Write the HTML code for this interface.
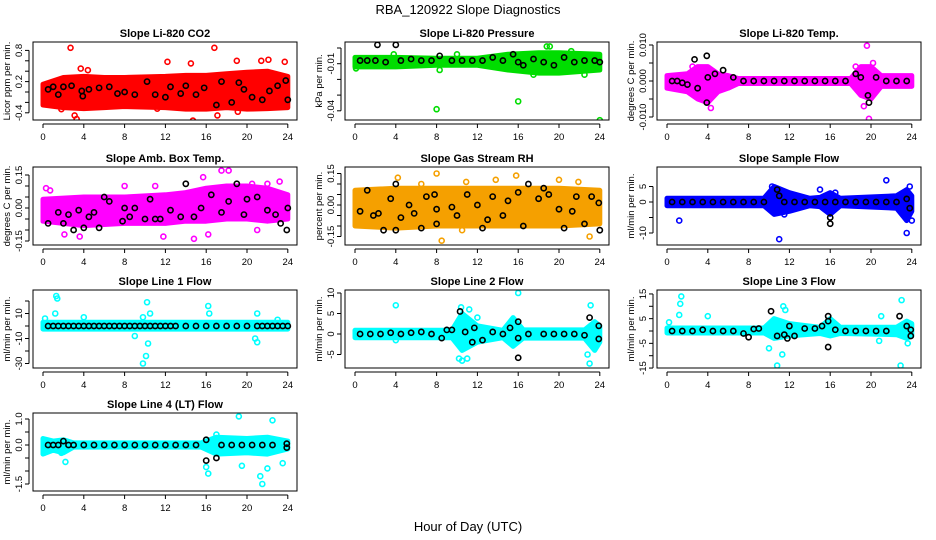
<!DOCTYPE html>
<html><head><meta charset="utf-8"><style>
html,body{margin:0;padding:0;background:#fff}
svg{display:block;font-family:"Liberation Sans",sans-serif}
</style></head><body>
<svg id="chart" width="936" height="540" viewBox="0 0 936 540" xmlns="http://www.w3.org/2000/svg">
<text x="468" y="14" font-size="13" text-anchor="middle">RBA_120922  Slope Diagnostics</text>
<text x="468" y="531" font-size="13" text-anchor="middle">Hour of Day (UTC)</text>
</svg>
<script>
const hourTicks=[0,4,8,12,16,20,24];
const panelTitles=["Slope Li-820 CO2","Slope Li-820 Pressure","Slope Li-820 Temp.","Slope Amb. Box Temp.","Slope Gas Stream RH","Slope Sample Flow","Slope Line 1 Flow","Slope Line 2 Flow","Slope Line 3 Flow","Slope Line 4 (LT) Flow"];
const yTitles=["Licor ppm per min.","kPa per min.","degrees C per min.","degrees C per min.","percent per min.","ml/min per min.","ml/min per min.","ml/min per min.","ml/min per min.","ml/min per min."];
const seriesColors=["#ff0000","#00dd00","#ff00ff","#ff00ff","#f5a000","#0000ff","#00ffff","#00ffff","#00ffff","#00ffff"];
const yTicks=[[-0.4,-0.2,0,0.2,0.4,0.6,0.8],[-0.04,-0.03,-0.02,-0.01,0],[-0.01,-0.005,0,0.005,0.01],[-0.15,-0.1,-0.05,0,0.05,0.1,0.15],[-0.15,-0.1,-0.05,0,0.05,0.1,0.15],[-10,-5,0,5],[-30,-20,-10,0,10,20],[-5,0,5,10],[-15,-10,-5,0,5,10,15],[-1.5,-1,-0.5,0,0.5,1]];
const yTickLabels=[{"-0.4":"-0.4","0.2":"0.2","0.8":"0.8"},{"-0.04":"-0.04","-0.01":"-0.01"},{"-0.01":"-0.010","0":"0.000","0.01":"0.010"},{"-0.15":"-0.15","0":"0.00","0.15":"0.15"},{"-0.15":"-0.15","0":"0.00","0.15":"0.15"},{"-10":"-10","0":"0","5":"5"},{"-30":"-30","-10":"-10","10":"10"},{"-5":"-5","0":"0","5":"5","10":"10"},{"-15":"-15","-5":"-5","5":"5","15":"15"},{"-1.5":"-1.5","0":"0.0","1":"1.0"}];
// band breakpoints (hour, low, high) for the dense point clouds
const bandH=[[0,2,4,6,8,12,14,16,18,20,22,24],[0,4,8,12,15,18,20,24],[0,2,3,4,5,6,7,18,19,20,21,24],[0,4,8,12,14,16,18,20,22,24],[0,4,8,12,16,20,24],[0,9.5,10.5,12,14,15,16,17,22.5,23.5,24],[0,24],[0,9.5,10.5,12,14.5,15.5,16.5,22.5,23.5,24],[0,9.5,10.5,12,15,16,17,22.5,23.5,24],[0,1,2,3,15.5,17,20,22,24]];
const bandLo=[[-0.25,-0.3,-0.32,-0.3,-0.28,-0.3,-0.33,-0.33,-0.3,-0.33,-0.32,-0.3],[-0.012,-0.012,-0.011,-0.011,-0.014,-0.016,-0.016,-0.014],[-0.002,-0.003,-0.005,-0.006,-0.003,-0.002,-0.0007,-0.0007,-0.004,-0.005,-0.0015,-0.0015],[-0.06,-0.08,-0.07,-0.07,-0.06,-0.06,-0.05,-0.05,-0.06,-0.05],[-0.1,-0.11,-0.1,-0.1,-0.1,-0.1,-0.09],[-1.2,-1.2,-4,-3,-1.2,-1.5,-4,-1.2,-2,-6,-3],[-2.5,-2.5],[-0.9,-0.9,-4,-2,-0.9,-3,-1,-1,-4,-2],[-0.8,-0.8,-3,-2,-1,-2,-1,-1.5,-3,-2],[-0.35,-0.2,-0.3,-0.08,-0.08,-0.35,-0.3,-0.35,-0.15]];
const bandHi=[[0.15,0.28,0.3,0.28,0.28,0.3,0.32,0.32,0.35,0.38,0.4,0.3],[-0.006,-0.006,-0.0065,-0.0065,-0.004,-0.003,-0.003,-0.004],[0.0015,0.002,0.004,0.004,0.002,0.0015,0.0007,0.0007,0.004,0.004,0.0015,0.0015],[0.04,0.05,0.05,0.06,0.07,0.09,0.1,0.1,0.09,0.06],[0.07,0.08,0.08,0.08,0.08,0.08,0.07],[1.2,1.2,5,3,1.2,1.5,3,1.2,2,4,2],[3,3],[0.9,0.9,5,2,0.9,4,1,1,3,2],[1.2,1.2,5,3,1.5,5,1.5,1.5,4,3],[0.25,0.15,0.2,0.08,0.08,0.3,0.25,0.3,0.15]];
const outliers=[
[[2.7,0.85],[16.8,0.85],[3.1,-0.45],[3.3,-0.52],[14.7,-0.55],[14.5,0.55],[12.2,0.58],[19,0.6],[21.4,0.6],[22.1,0.62],[23.7,0.58],[1.8,-0.33],[17.1,-0.45],[19.1,-0.38],[11.2,-0.32],[3.7,0.45],[4.4,0.42]],
[[8,-0.039],[16,-0.034],[24,-0.046],[0.1,-0.013],[18.8,0.001],[19.1,0.001],[10,-0.004],[17.5,-0.017],[22.5,-0.017],[3.8,-0.004],[8.3,-0.014],[21.2,-0.002]],
[[19.6,0.0098],[19.8,-0.0105],[4.3,-0.0075],[18.5,0.004],[3.5,-0.0045],[20.2,0.005],[2.5,0.004],[19.3,-0.007]],
[[0.3,0.09],[0.7,0.08],[15.7,0.14],[17.5,0.17],[18.2,0.17],[14.8,-0.14],[3.6,-0.13],[2.1,-0.12],[23.2,0.12],[8,0.1],[11,0.1],[21,-0.1],[16.2,-0.12],[11.8,-0.13],[20.5,0.11],[22,0.11]],
[[4.2,0.13],[8,0.15],[15.8,0.14],[8.5,-0.17],[23,-0.15],[13.8,0.12],[10.9,0.11],[20,0.12],[21.9,0.11],[10.5,-0.12],[6.5,0.1]],
[[1.2,-6],[11,-12],[23.5,-10],[21.5,7],[15,4],[10.3,5],[24,-6],[11.5,-4],[16.5,3],[23.8,5]],
[[1.3,24],[1.4,22],[1.2,10],[0.2,6],[4,7],[10.2,19],[10.5,10],[9.8,-30],[10.1,-24],[10.3,-14],[16.2,16],[16.3,10],[21,10],[20.8,-10],[21,-13],[9.8,7],[23,5],[9,-8]],
[[4,7],[16,10],[10.2,-6],[10.5,-6.5],[11,-6],[23,-7.2],[22.8,-5],[23.1,7],[11.2,6],[4,-1.5],[10.4,6.5],[12,4]],
[[1.4,14],[1.3,11],[1.2,6.5],[0.2,3.5],[4,6],[10.8,-14],[11.3,-9.5],[11.4,10],[11.6,8.5],[23,12.5],[22.9,-14],[23.2,-16],[23.6,-5],[21,6],[20.8,-4],[10,-7]],
[[0.1,-0.3],[2.2,-0.65],[16,-0.85],[16.2,-1.1],[19.2,1.1],[19.5,-0.8],[21.3,-1.2],[21.5,-1.5],[22.5,0.95],[22,-0.9],[17,0.4],[23.5,-0.7],[1.8,-0.3]]];
const blackPts=[
[[0.5,0.05],[1,0.1],[1.5,-0.05],[2,0.1],[2.8,0.12],[3.8,0.02],[3.9,-0.08],[4.5,0.05],[5.5,0.08],[6.5,0.1],[7.3,-0.03],[8,0.0],[9,-0.05],[10.2,0.2],[11,-0.05],[12,-0.1],[12.5,0.1],[13.5,-0.03],[14,0.12],[15,-0.05],[15.8,0.08],[17,-0.25],[17.5,0.2],[18.5,-0.2],[19.2,0.18],[19.7,0.05],[20.5,-0.1],[21.5,-0.15],[22.2,0.02],[23,0.12],[23.8,0.22],[24,-0.15]],
[[0.5,-0.008],[1.2,-0.008],[2,-0.008],[2.2,0.002],[3,-0.009],[4,0.002],[4.5,-0.008],[5.5,-0.007],[6.5,-0.008],[7.5,-0.008],[8.3,-0.005],[9.5,-0.008],[10.5,-0.008],[11.5,-0.008],[12.5,-0.008],[13.5,-0.006],[14.5,-0.008],[15.5,-0.004],[16,-0.009],[16.5,-0.011],[17.5,-0.007],[18.5,-0.009],[19.5,-0.011],[20.5,-0.006],[21.5,-0.009],[22.5,-0.008],[23.5,-0.008],[24,-0.009]],
[[0.5,0],[1,0],[1.5,-0.0005],[2,-0.001],[2.7,0.006],[3,-0.002],[3.9,0.007],[3.9,-0.006],[4,0.001],[4.7,0.002],[5.5,0.003],[6.5,0.001],[7.5,0],[8.5,0],[9.5,0],[10.5,0],[11.5,0],[12.5,0],[13.5,0],[14.5,0],[15.5,0],[16.5,0],[17.5,0],[18.5,0.002],[19,0.001],[19.7,-0.004],[19.8,-0.006],[20.5,0.001],[21.5,0],[22.5,0],[23.5,0]],
[[0.5,-0.07],[1.5,-0.02],[2,-0.07],[2.5,-0.03],[3,-0.1],[3.5,-0.01],[4,-0.09],[4.5,-0.04],[5,-0.02],[5.5,-0.09],[6,0.05],[6.5,0.03],[7.8,-0.06],[8,0.0],[8.5,-0.04],[9,0.0],[10,-0.05],[10.5,0.04],[11,-0.05],[11.5,-0.05],[12.5,-0.01],[13.5,-0.04],[14,0.11],[14.8,-0.04],[15.5,0.0],[16.5,0.06],[17.5,-0.02],[18.2,0.03],[19,0.11],[19.7,-0.03],[20,0.04],[21,0.05],[22,-0.01],[22.8,-0.03],[23.3,-0.07],[23.9,-0.1],[24,0.0]],
[[0.5,-0.03],[1.2,0.07],[1.8,-0.05],[2.3,-0.04],[2.8,-0.12],[3.5,0.03],[4,0.1],[4,-0.12],[4.5,-0.06],[5.3,0.0],[5.8,-0.04],[6.5,-0.11],[7,0.04],[7.8,0.05],[8,-0.02],[8,-0.09],[9.5,-0.01],[10,-0.05],[11,0.05],[12,0.0],[12.5,-0.11],[13,-0.07],[13.5,0.04],[14.5,-0.05],[15,0.02],[16,0.06],[16.5,-0.1],[17,0.1],[18,0.03],[18.5,0.08],[19,0.05],[20,-0.02],[20.5,-0.11],[21.3,-0.03],[21.7,0.04],[22.5,-0.09],[23.2,0.04],[23.9,0.01],[24,-0.12]],
[[0.5,0],[1.5,0],[2.5,0],[3.5,0],[4.5,0],[5.5,0],[6.5,0],[7.5,0],[8.5,0],[9.5,0],[10.8,4],[11,2],[11.5,0],[12.5,0],[13.5,0],[14.5,0],[15.5,0],[16,-5],[16,-7],[16.5,0],[17.5,0],[18.5,0],[19.5,0],[20.5,0],[21.5,0],[22.5,0],[23.5,1],[23.8,-2]],
[[0.5,0],[1,0],[1.5,0],[2,0],[2.5,0],[3,0],[3.5,0],[4,0],[4.5,0],[5,0],[5.5,0],[6,0],[6.5,0],[7,0],[7.5,0],[8,0],[8.5,0],[9,0],[9.5,0],[10,0],[10.5,0],[11,0],[11.5,0],[12,0],[12.5,0],[13,0],[14,0],[15,0],[16,0],[17,0],[18,0],[19,0],[20,0],[21,0],[21.5,0],[22,0],[22.5,0],[23,0],[23.5,0],[24,0]],
[[0.5,0],[1.5,0],[2.5,0],[3.5,0.3],[4.5,0],[5.5,0.3],[6.5,0.5],[7.5,0],[8.5,-1],[9,1],[9.5,1],[10.3,5.5],[10.8,0.5],[11.5,-2],[11.7,1.5],[12.5,-1.5],[13.5,0.5],[14.5,0],[15.2,1.5],[16,3],[16,-5.8],[16,-1],[17,0],[18.5,0],[19.5,0],[20.5,0],[21.5,0],[22.5,-0.3],[23,4],[23.9,2],[23.9,-1.2]],
[[0.5,0],[1.5,0],[2.5,0],[3.5,0.5],[4.5,0],[5.5,0],[6.5,0],[7.5,-1],[8,-2.5],[8.5,0.8],[9,1],[10.2,8],[10.8,-2],[11.5,-1.5],[11.8,-3],[12,2],[12.5,-2],[13.5,1],[14.5,1],[15.2,2],[15.8,6],[15.8,4],[15.8,-6.5],[16.5,0.5],[17.5,0],[18.5,0],[19.5,0],[20.5,0],[21.5,0],[22.8,6],[23.5,2],[23.9,-2],[23.9,0.5]],
[[0.5,0],[1,0],[1.5,0],[2,0.15],[2.5,0],[3,0],[4,0],[5,0],[6,0],[7,0],[8,0],[9,0],[10,0],[11,0],[12,0],[13,0],[14,0],[15,0],[16,-0.6],[16,0.2],[17,-0.5],[17.5,0],[18.5,0],[19.5,0],[20.5,0],[21.5,0],[22.5,0],[23.9,0.05],[23.9,-0.1]]];

const colLeft=[33,345,657], rowTop=[42,167,290,413], boxW=264, boxH=78;
const yZero=[92,48,81,208,205,202,326,334,331,445];
const yScale=[52,1570,3600,220,210,3.1,1.25,4.1,2.47,26];
const NS="http://www.w3.org/2000/svg";
const svg=document.getElementById('chart');
function mk(tag,attrs,parent){const e=document.createElementNS(NS,tag);for(const k in attrs)e.setAttribute(k,attrs[k]);(parent||svg).appendChild(e);return e;}

panelTitles.forEach((title,p)=>{
  const L=colLeft[p%3], T=rowTop[Math.floor(p/3)];
  const g=mk('g',{});
  
  
  const xs=h=>L+10+h*10.2;
  const ys=v=>yZero[p]-v*yScale[p];
  const clip=mk('clipPath',{id:'c'+p},g);
  mk('rect',{x:L,y:T,width:boxW,height:boxH},clip);
  const plot=mk('g',{'clip-path':'url(#c'+p+')'},g);
  const col=seriesColors[p];
  // band
  let pts=[];
  bandH[p].forEach((h,i)=>pts.push(xs(h)+','+ys(bandHi[p][i])));
  for(let i=bandH[p].length-1;i>=0;i--)pts.push(xs(bandH[p][i])+','+ys(bandLo[p][i]));
  const band=mk('polygon',{points:pts.join(' '),fill:col,stroke:col,'stroke-width':5,'stroke-linejoin':'round'},plot);
  
  
  outliers[p].forEach(d=>{
    const c=mk('circle',{cx:xs(d[0]),cy:ys(d[1]),r:2.5,fill:'none',stroke:col,'stroke-width':1.6},plot);
    
    
  });
  blackPts[p].forEach(d=>{
    const c=mk('circle',{cx:xs(d[0]),cy:ys(d[1]),r:2.6,fill:'none',stroke:'#000','stroke-width':1.6},plot);
    
    
  });
  const box=mk('rect',{x:L,y:T,width:boxW,height:boxH,fill:'none',stroke:'#000','stroke-width':1},g);
  
  
  const t=mk('text',{x:L+boxW/2,y:T-5,'font-size':11,'font-weight':'bold','text-anchor':'middle'},g);
  t.textContent=title;
  
  
  // x axis
  mk('line',{x1:xs(0),x2:xs(24),y1:T+boxH+4,y2:T+boxH+4,stroke:'#000'},g);
  hourTicks.forEach(h=>{
    mk('line',{x1:xs(h),x2:xs(h),y1:T+boxH+4,y2:T+boxH+8,stroke:'#000'},g);
    const tl=mk('text',{x:xs(h),y:T+boxH+20,'font-size':9.5,'text-anchor':'middle'},g);
    tl.textContent=h;
    
    
  });
  // y axis
  const tk=yTicks[p];
  mk('line',{x1:L-4,x2:L-4,y1:ys(tk[0]),y2:ys(tk[tk.length-1]),stroke:'#000'},g);
  tk.forEach(v=>{
    mk('line',{x1:L-8,x2:L-4,y1:ys(v),y2:ys(v),stroke:'#000'},g);
    const lab=yTickLabels[p][String(v)];
    if(lab!==undefined){
      const tl=mk('text',{x:0,y:0,'font-size':9.5,'text-anchor':'middle',transform:'translate('+(L-11)+','+ys(v)+') rotate(-90)'},g);
      tl.textContent=lab;
      
      
    }
  });
  const yt=mk('text',{x:0,y:0,'font-size':9.5,'text-anchor':'middle',transform:'translate('+(L-23)+','+(T+boxH/2)+') rotate(-90)'},g);
  yt.textContent=yTitles[p];
  
  
});
</script>
</body></html>
